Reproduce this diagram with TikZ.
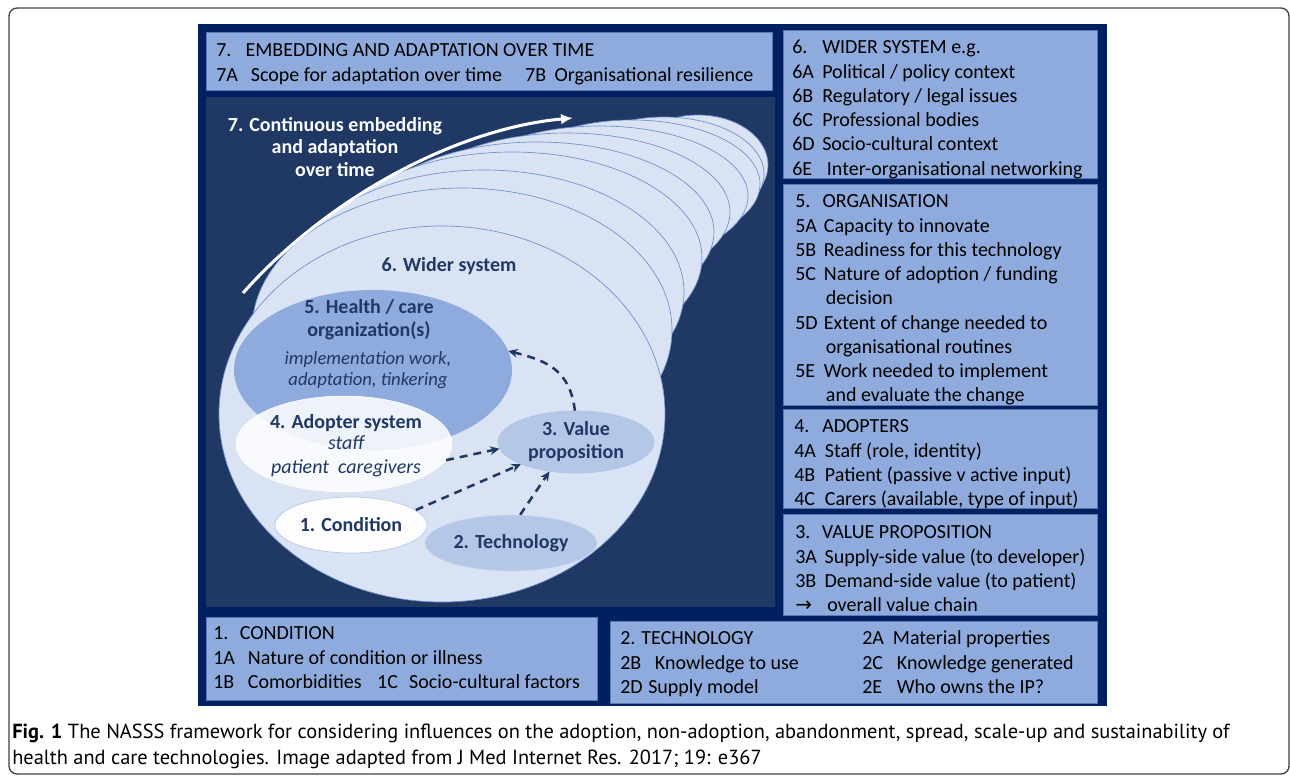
\documentclass[tikz,border=0pt]{standalone}
\usepackage{fontspec}
\setmainfont{Carlito}
\newfontfamily\capfont{PT Sans}
\newfontfamily\symfont{DejaVu Sans}
\usetikzlibrary{arrows.meta,shapes.geometric}

\definecolor{navyout}{HTML}{002060}
\definecolor{navyin}{HTML}{203864}
\definecolor{boxblue}{HTML}{8FAADC}
\definecolor{boxedge}{HTML}{5A78B4}
\definecolor{paleblue}{HTML}{DAE3F3}
\definecolor{midblue}{HTML}{B4C7E7}
\definecolor{lineblue}{HTML}{6F8ECB}
\definecolor{darktext}{HTML}{1F3864}

% label column for the lists in the boxes
\newcommand{\itm}[3][22pt]{\makebox[#1][l]{#2}#3}

\tikzset{
  infobox/.style={fill=boxblue, draw=boxedge, line width=0.6pt},
  boxtext/.style={anchor=north west, inner sep=0pt, align=left, font=\fontsize{15}{18.2}\selectfont},
  stackell/.style={fill=paleblue, draw=lineblue, line width=0.5pt},
  ell/.style={ellipse, inner sep=0pt},
  elltext/.style={text=darktext, inner sep=0pt, align=center, font=\bfseries\fontsize{15}{17}\selectfont},
  flow/.style={draw=darktext, line width=1.9pt, dash pattern=on 6pt off 4.5pt, -{Stealth[length=7pt,width=6.5pt]}},
}

\begin{document}
\begin{tikzpicture}[x=0.75pt,y=0.75pt,yscale=-1,xscale=1]
\useasboundingbox (0,0) rectangle (1290,776);

%Frame
\draw[draw=black!75, line width=1pt, rounded corners=6pt] (9,8) rectangle (1289,774);

%Background panels
\fill[navyout] (198,24) rectangle (1107,706);
\fill[navyin] (206,97) rectangle (775,607);

%Boxes
\draw[infobox] (206,32) rectangle (772,90);
\draw[infobox] (783,30) rectangle (1097,178);
\draw[infobox] (783,184) rectangle (1097,405);
\draw[infobox] (783,409) rectangle (1097,508);
\draw[infobox] (783,514) rectangle (1097,615);
\draw[infobox] (206,617) rectangle (597,700);
\draw[infobox] (610,621) rectangle (1097,703);

%Shape: Ellipse stack (wider system over time), back to front
\draw[stackell] (698,165) ellipse (70 and 50);
\draw[stackell] (664,174) ellipse (100 and 57);
\draw[stackell] (632,184) ellipse (128 and 64);
\draw[stackell] (600,196) ellipse (148 and 70);
\draw[stackell] (567,212) ellipse (163 and 79);
\draw[stackell] (537,232) ellipse (177 and 90);
\draw[stackell] (512,258) ellipse (190 and 106);
\draw[stackell] (484,292) ellipse (200 and 122);
\draw[stackell] (462,330) ellipse (210 and 142);
\draw[stackell] (442,414) ellipse (223 and 188);

%Time arrow
\coordinate (timestart) at (243,293);
\coordinate (timeend) at (573,118);
\draw[draw=white!92!paleblue, line width=2.3pt, -{Latex[length=9pt,width=8pt]}] (timestart) .. controls (330,195) and (460,128) .. (timeend);

%Shape: Ellipses of the domains
\node[ell, fill=boxblue, minimum width=208.5pt, minimum height=120pt] (org) at (373,370) {};
\node[ell, fill=white, fill opacity=0.85, draw=white, minimum width=162pt, minimum height=72pt] (adopt) at (344,444) {};
\node[ell, fill=white!94!paleblue, draw=midblue, line width=0.5pt, minimum width=114pt, minimum height=42pt] (cond) at (351,525) {};
\node[ell, fill=midblue, draw=midblue!70!white, line width=0.5pt, minimum width=129pt, minimum height=42pt] (tech) at (511,543) {};
\node[ell, fill=midblue, draw=boxblue!70!white, line width=0.5pt, minimum width=117pt, minimum height=46.5pt] (value) at (576,442) {};

%Dashed arrows
\draw[flow] (adopt.-9) -- (value.185);
\draw[flow] (cond.13) -- (value.202);
\draw[flow] (tech.72) -- (value.228);
\draw[flow] (value.92) .. controls +(-5,-40) and +(40,10) .. (org.8);

% Text Node
\node[elltext, text=white!92!paleblue] (embedtxt) at (335,147) {7. Continuous embedding\\and adaptation\\over time};
\node[elltext] (widertxt) at (449,266) {6. Wider system};
\node[elltext] (orgtitle) at (369,320) {5. Health / care\\organization(s)};
\node[elltext, font=\itshape\fontsize{14}{15.75}\selectfont] (orgnote) at (368,370) {implementation work,\\adaptation, tinkering};
\node[elltext] (adopttitle) at (346,423) {4. Adopter system};
\node[elltext, font=\itshape\fontsize{15}{18}\selectfont] (adoptnote) at (346,456) {staff\\patient\ \ caregivers};
\node[elltext] (condtxt) at (cond) {1. Condition};
\node[elltext] (techtxt) at (tech) {2. Technology};
\node[elltext, font=\bfseries\fontsize{15}{17.25}\selectfont] (valuetxt) at (value) {3. Value\\proposition};

% Box texts
\node[boxtext] (t7) at (216,39.5) {\strut\itm[22pt]{7.}{EMBEDDING AND ADAPTATION OVER TIME}\\
  \makebox[231.75pt][l]{\itm[26pt]{7A}{Scope for adaptation over time}}\itm[22pt]{7B}{Organisational resilience}};
\node[boxtext] (t6) at (792,36.5) {\strut\itm[22.5pt]{6.}{WIDER SYSTEM e.g.}\\
  \itm[22.5pt]{6A}{Political / policy context}\\
  \itm[22.5pt]{6B}{Regulatory / legal issues}\\
  \itm[22.5pt]{6C}{Professional bodies}\\
  \itm[22.5pt]{6D}{Socio-cultural context}\\
  \itm[26pt]{6E}{Inter-organisational networking}};
\node[boxtext] (t5) at (795,190.5) {\strut\itm[20.5pt]{5.}{ORGANISATION}\\
  \itm[21.5pt]{5A}{Capacity to innovate}\\
  \itm[21.5pt]{5B}{Readiness for this technology}\\
  \itm[21.5pt]{5C}{Nature of adoption / funding}\\
  \itm[23pt]{}{decision}\\
  \itm[21.5pt]{5D}{Extent of change needed to}\\
  \itm[23pt]{}{organisational routines}\\
  \itm[21.5pt]{5E}{Work needed to implement}\\
  \itm[23pt]{}{and evaluate the change}};
\node[boxtext] (t4) at (794,415.5) {\strut\itm[21pt]{4.}{ADOPTERS}\\
  \itm[23pt]{4A}{Staff (role, identity)}\\
  \itm[23pt]{4B}{Patient (passive v active input)}\\
  \itm[23pt]{4C}{Carers (available, type of input)}};
\node[boxtext] (t3) at (795,521.5) {\strut\itm[20pt]{3.}{VALUE PROPOSITION}\\
  \itm[22pt]{3A}{Supply-side value (to developer)}\\
  \itm[22pt]{3B}{Demand-side value (to patient)}\\
  \itm[24pt]{{\symfont\fontsize{15}{15}\selectfont →}}{overall value chain}};
\node[boxtext] (t1) at (213,622.5) {\strut\itm[20pt]{1.}{CONDITION}\\
  \itm[26pt]{1A}{Nature of condition or illness}\\
  \makebox[123pt][l]{\itm[26pt]{1B}{Comorbidities}}\itm[24pt]{1C}{Socio-cultural factors}};
\node[boxtext] (t2a) at (620,627.5) {\strut 2. TECHNOLOGY\\
  \itm[26pt]{2B}{Knowledge to use}\\
  \itm[21pt]{2D}{Supply model}};
\node[boxtext] (t2b) at (862,627.5) {\strut\itm[23pt]{2A}{Material properties}\\
  \itm[26pt]{2C}{Knowledge generated}\\
  \itm[26pt]{2E}{Who owns the IP?}};

% Caption
\node[anchor=north west, inner sep=0pt, align=left, font=\capfont\fontsize{15.3}{19.5}\selectfont] (caption) at (12,720) {\strut\textbf{Fig. 1} The NASSS framework for considering influences on the adoption, non-adoption, abandonment, spread, scale-up and sustainability of\\
  health and care technologies. Image adapted from J Med Internet Res. 2017; 19: e367};

\end{tikzpicture}
\end{document}
